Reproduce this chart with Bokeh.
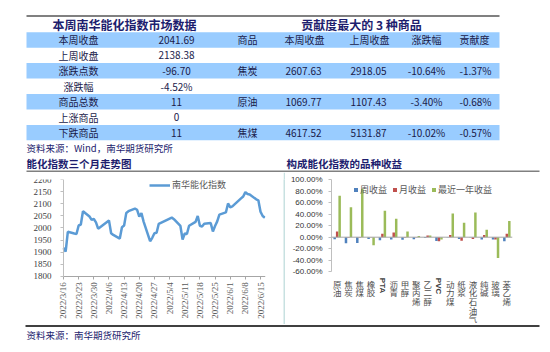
import math
import pandas as pd
from bokeh.plotting import figure
from bokeh.models import Range1d, FixedTicker, Legend, LegendItem, Span
from bokeh.layouts import column, row
from bokeh.core.properties import value
from bokeh.embed import file_html
from bokeh.resources import INLINE

# ---------------- data ----------------
summary_title = "本周南华能化指数市场数据"
summary_labels = ["本周收盘", "上周收盘", "涨跌点数", "涨跌幅", "商品总数", "上涨商品", "下跌商品"]
summary_values = ["2041.69", "2138.38", "-96.70", "-4.52%", "11", "0", "11"]

contrib_title = "贡献度最大的 3 种商品"
contrib_header = ["商品", "本周收盘", "上周收盘", "涨跌幅", "贡献度"]
contrib_names = ["焦炭", "原油", "焦煤"]
contrib_this_week = ["2607.63", "1069.77", "4617.52"]
contrib_last_week = ["2918.05", "1107.43", "5131.87"]
contrib_change = ["-10.64%", "-3.40%", "-10.02%"]
contrib_share = ["-1.37%", "-0.68%", "-0.57%"]

index_dates = [
    "2022-03-16", "2022-03-17", "2022-03-18", "2022-03-21", "2022-03-22", "2022-03-23",
    "2022-03-24", "2022-03-25", "2022-03-28", "2022-03-29", "2022-03-30", "2022-03-31",
    "2022-04-01", "2022-04-06", "2022-04-07", "2022-04-08", "2022-04-11", "2022-04-12",
    "2022-04-13", "2022-04-14", "2022-04-15", "2022-04-18", "2022-04-19", "2022-04-20",
    "2022-04-21", "2022-04-22", "2022-04-25", "2022-04-26", "2022-04-27", "2022-04-28",
    "2022-04-29", "2022-05-05", "2022-05-06", "2022-05-09", "2022-05-10", "2022-05-11",
    "2022-05-12", "2022-05-13", "2022-05-16", "2022-05-17", "2022-05-18", "2022-05-19",
    "2022-05-20", "2022-05-23", "2022-05-24", "2022-05-25", "2022-05-26", "2022-05-27",
    "2022-05-30", "2022-05-31", "2022-06-01", "2022-06-02", "2022-06-06", "2022-06-07",
    "2022-06-08", "2022-06-09", "2022-06-10", "2022-06-13", "2022-06-14", "2022-06-15",
    "2022-06-16", "2022-06-17",
]
index_values = [
    1917, 1902, 1984, 1977, 1975, 2010,
    2014, 2069, 2047, 2033, 2037, 2023,
    1997, 2031, 1978, 1971, 1956, 2003,
    2010, 2062, 2069, 2080, 2075, 2047,
    2061, 2026, 1945, 1959, 1978, 1980,
    2017, 2043, 2036, 2008, 1952, 1977,
    1975, 2009, 2025, 2049, 2009, 2006,
    2017, 2020, 1985, 2008, 2027, 2055,
    2064, 2101, 2085, 2089, 2122, 2130,
    2148, 2140, 2138.38, 2118, 2114, 2067,
    2049, 2041.69,
]
date_tick_labels = ["2022/3/16", "2022/3/23", "2022/3/30", "2022/4/6", "2022/4/13",
                    "2022/4/20", "2022/4/27", "2022/5/4", "2022/5/11", "2022/5/18",
                    "2022/5/25", "2022/6/1", "2022/6/8", "2022/6/15"]
index_ticks = [1800, 1850, 1900, 1950, 2000, 2050, 2100, 2150, 2200]

categories = ["原油", "焦炭", "焦煤", "橡胶", "PTA", "沥青", "甲醇", "聚丙烯",
              "乙二醇", "PVC", "动力煤", "纸浆", "液化石油气", "纯碱", "玻璃", "苯乙烯"]
weekly_ret = [-3.40, -10.64, -10.02, -3.0, -5.5, -4.0, -4.5, -3.5,
              -1.5, -6.5, -0.5, -3.0, -0.5, -4.0, -4.0, -7.0]
monthly_ret = [10.0, -1.0, -1.0, 0.5, 6.0, 8.0, -1.0, 0.5,
               3.0, -7.0, 4.0, -6.0, -3.0, 4.0, -4.0, 6.0]
yearly_ret = [72.0, 52.0, 84.0, -14.0, 46.0, 32.0, 10.0, 2.0,
              3.0, -4.0, 41.0, 25.0, 43.0, 13.0, -36.0, 28.0]
pct_ticks = [-60, -40, -20, 0, 20, 40, 60, 80, 100]
series_names = ["周收益", "月收益", "最近一年收益"]

source_top = "资料来源：Wind，南华期货研究所"
chart1_title = "能化指数三个月走势图"
chart2_title = "构成能化指数的品种收益"
line_name = "南华能化指数"
source_bottom = "资料来源：南华期货研究所"

# ---------------- styles ----------------
CJK = "Noto Sans CJK SC"
NAVY = "#1d1d6e"
TXT = "#1a1a4a"
BAND = "#99CCFF"
GRAY_RULE = "#808080"
MID_H = 152


def blank(width, height, y0, y1):
    f = figure(width=width, height=height, x_range=Range1d(0, width),
               y_range=Range1d(y1, y0), output_backend="svg", toolbar_location=None,
               min_border=0, x_axis_location=None, y_axis_location=None,
               outline_line_color=None, background_fill_color="white",
               border_fill_color="white")
    f.grid.visible = False
    return f


def txt(f, x, y, texts, size="10px", align="left", color=TXT, bold=False, font=CJK):
    f.text(x=x, y=y, text=texts, text_align=align, text_baseline="middle",
           text_font=value(font), text_font_size=size, text_color=color,
           text_font_style="bold" if bold else "normal")


# ---------------- top section (tables) ----------------
top = blank(550, 172, 0, 172)
ROW0, ROWH = 31.7, 15.45
row_tops = [ROW0 + i * ROWH for i in range(len(summary_labels))]
centers = [t + ROWH / 2 for t in row_tops]
band_tops = [row_tops[i] for i in range(0, len(row_tops), 2)]
top.quad(left=26, right=499, top=band_tops, bottom=[t + ROWH for t in band_tops],
         fill_color=BAND, line_color=None)
top.line([26, 499], [15.5, 15.5], line_color=GRAY_RULE, line_width=2)

txt(top, [124], [24], [summary_title], size="12px", align="center", color=NAVY, bold=True)
txt(top, [361], [24], [contrib_title], size="12px", align="center", color=NAVY, bold=True)

txt(top, [78] * 7, centers, summary_labels, align="center")
txt(top, [176] * 7, centers, summary_values, align="center")

txt(top, [237], [centers[0]], [contrib_header[0]])
txt(top, [304, 369, 426, 474], [centers[0]] * 4, contrib_header[1:], align="center")
data_rows = [centers[2], centers[4], centers[6]]
txt(top, [237] * 3, data_rows, contrib_names)
txt(top, [303] * 3, data_rows, contrib_this_week, align="center")
txt(top, [368] * 3, data_rows, contrib_last_week, align="center")
txt(top, [426] * 3, data_rows, contrib_change, align="center")
txt(top, [475] * 3, data_rows, contrib_share, align="center")

txt(top, [26], [147], [source_top], size="9.5px", color=NAVY)
txt(top, [26], [162.5], [chart1_title], size="10.5px", color=NAVY, bold=True)
txt(top, [286], [162.5], [chart2_title], size="10.5px", color=NAVY, bold=True)
top.line([26, 539], [171, 171], line_color=GRAY_RULE, line_width=2)

# ---------------- left chart: index line ----------------
start = pd.Timestamp(index_dates[0])
x_days = [(pd.Timestamp(d) - start).days for d in index_dates]
tick_days = [(pd.Timestamp(s.replace("/", "-")) - start).days for s in date_tick_labels]

LC_W = 283
L_RIGHT = 18
L_AXIS_X = 63.0                          # pixel position of the value axis
L_END = 93.3                             # last day shown
l_day_px = (LC_W - L_RIGHT - L_AXIS_X) / L_END
l_xmin = -L_AXIS_X / l_day_px

L_TOP = 6
L_FRAME = MID_H - L_TOP                 # frame runs down to the bottom of the row
L_PLOT_PX = 97.5                         # pixel height of the 1800..2200 band
l_per_px = (index_ticks[-1] - index_ticks[0]) / L_PLOT_PX
l_ymin = index_ticks[-1] - L_FRAME * l_per_px

lc = figure(width=LC_W, height=MID_H, x_range=Range1d(l_xmin, L_END),
            y_range=Range1d(l_ymin, index_ticks[-1]),
            output_backend="svg", toolbar_location=None,
            min_border_left=0, min_border_right=L_RIGHT, min_border_top=L_TOP, min_border_bottom=0,
            outline_line_color=None)
lc.grid.visible = False
r_line = lc.line(x_days, index_values, line_color="#5B9BD5", line_width=2.5)

lc.xaxis.fixed_location = index_ticks[0]
lc.xaxis.bounds = (0, L_END)
lc.xaxis.ticker = FixedTicker(ticks=tick_days)
lc.xaxis.major_label_overrides = {d: s for d, s in zip(tick_days, date_tick_labels)}
lc.xaxis.major_label_orientation = math.pi / 2
lc.xaxis.major_label_text_font = "Liberation Serif"
lc.xaxis.major_label_text_font_size = "9px"
lc.xaxis.major_label_text_color = "#595959"
lc.xaxis.major_label_standoff = 3
lc.xaxis.major_tick_out = 3
lc.xaxis.major_tick_in = 0
lc.xaxis.minor_tick_line_color = None
lc.xaxis.axis_line_color = "#A6A6A6"
lc.xaxis.major_tick_line_color = "#A6A6A6"

lc.yaxis.fixed_location = 0
lc.yaxis.bounds = (index_ticks[0], index_ticks[-1])
lc.yaxis.ticker = FixedTicker(ticks=index_ticks)
lc.yaxis.major_label_text_font = "Liberation Serif"
lc.yaxis.major_label_text_font_size = "9px"
lc.yaxis.major_label_text_color = "#404040"
lc.yaxis.major_tick_out = 3
lc.yaxis.major_tick_in = 0
lc.yaxis.minor_tick_line_color = None
lc.yaxis.major_label_standoff = 9
lc.yaxis.axis_line_color = "#BFBFBF"
lc.yaxis.major_tick_line_color = "#BFBFBF"

lc.add_layout(Legend(items=[LegendItem(label=line_name, renderers=[r_line])],
                     location=(86 + L_AXIS_X, L_FRAME - 7 - 6), orientation="horizontal",
                     glyph_width=21, glyph_height=10, label_height=10, label_standoff=2,
                     padding=0, margin=0, border_line_color=None, background_fill_alpha=0,
                     label_text_font=CJK, label_text_font_size="9px",
                     label_text_color="#595959"))

# ---------------- separator strip ----------------
strip = figure(width=2, height=MID_H, x_range=Range1d(0, 1), y_range=Range1d(0, 1),
               output_backend="svg", toolbar_location=None, min_border=0,
               x_axis_location=None, y_axis_location=None, outline_line_color=None,
               background_fill_color="#C8E1E1", border_fill_color="#C8E1E1")
strip.grid.visible = False

# ---------------- right chart: returns bars ----------------
R_TOP = 7
R_FRAME = MID_H - R_TOP
R_PLOT_PX = 92.3
r_per_px = (pct_ticks[-1] - pct_ticks[0]) / R_PLOT_PX
r_ymin = pct_ticks[-1] - R_FRAME * r_per_px

bc = figure(width=265, height=MID_H, x_range=Range1d(-0.5, len(categories) - 0.5),
            y_range=Range1d(r_ymin, pct_ticks[-1]),
            output_backend="svg", toolbar_location=None,
            min_border_left=46, min_border_right=38, min_border_top=R_TOP, min_border_bottom=0,
            outline_line_color=None)
bc.grid.visible = False
bc.xaxis.visible = False
idx = list(range(len(categories)))
bw = 0.22
colors = ["#4F81BD", "#C0504D", "#9BBB59"]
renderers = []
for k, (vals, col) in enumerate(zip([weekly_ret, monthly_ret, yearly_ret], colors)):
    r = bc.vbar(x=[i + (k - 1) * bw for i in idx], top=vals, bottom=0, width=bw,
                fill_color=col, line_color=None)
    renderers.append(r)
bc.add_layout(Span(location=0, dimension="width", line_color="#A6A6A6", line_width=1))

# category labels: CJK stacked vertically, Latin rotated
lab_top = pct_ticks[0] - 6 * r_per_px
step = 8.6 * r_per_px
cx, cy, ct = [], [], []
for i, c in zip(idx, categories):
    if not c.isascii():
        for k, ch in enumerate(c):
            cx.append(i)
            cy.append(lab_top - k * step)
            ct.append(ch)
bc.text(x=cx, y=cy, text=ct, text_align="center", text_baseline="top",
        text_font=value(CJK), text_font_size="8.5px", text_color="#505050")
lx = [i for i, c in zip(idx, categories) if c.isascii()]
lt = [c for c in categories if c.isascii()]
bc.text(x=lx, y=[lab_top] * len(lx), text=lt, angle=-math.pi / 2,
        text_align="left", text_baseline="middle",
        text_font=value("Liberation Sans"), text_font_size="8px",
        text_font_style="bold", text_color="#404040")

bc.yaxis.bounds = (pct_ticks[0], pct_ticks[-1])
bc.yaxis.ticker = FixedTicker(ticks=pct_ticks)
bc.yaxis.major_label_overrides = {t: f"{t:.2f}%" for t in pct_ticks}
bc.yaxis.major_label_text_font = "Liberation Sans"
bc.yaxis.major_label_text_font_size = "8px"
bc.yaxis.major_label_text_color = "#333333"
bc.yaxis.major_tick_out = 3
bc.yaxis.major_tick_in = 0
bc.yaxis.minor_tick_line_color = None
bc.yaxis.major_label_standoff = 6
bc.yaxis.axis_line_color = "#BFBFBF"
bc.yaxis.major_tick_line_color = "#BFBFBF"

bc.add_layout(Legend(items=[LegendItem(label=n, renderers=[r]) for n, r in zip(series_names, renderers)],
                     location=(22, R_FRAME - 11 - 6), orientation="horizontal",
                     glyph_width=5, glyph_height=5, label_height=9, label_standoff=2,
                     spacing=5, padding=0, margin=0, border_line_color=None,
                     background_fill_alpha=0, label_text_font=CJK,
                     label_text_font_size="9px", label_text_color="#595959"))

# ---------------- bottom section ----------------
bottom = blank(550, 28, 324, 352)
bottom.line([25, 539], [325.5, 325.5], line_color="black", line_width=1.5)
txt(bottom, [26], [334], [source_bottom], size="9.5px", color=NAVY)

layout = column(top, row(lc, strip, bc), bottom)
open("out.html", "w").write(file_html(layout, INLINE))
